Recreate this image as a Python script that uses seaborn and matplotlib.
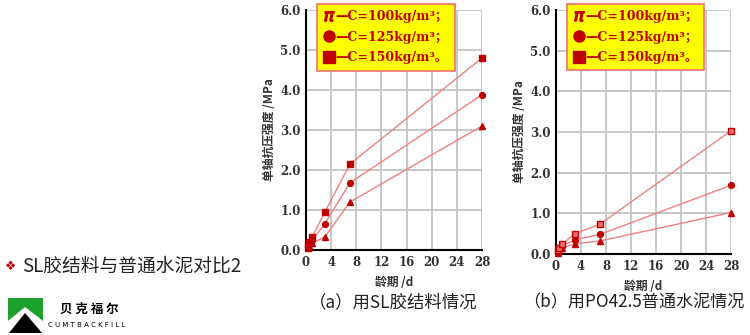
import matplotlib
matplotlib.use("Agg")
import matplotlib.pyplot as plt
import seaborn as sns
import pandas as pd
from matplotlib.lines import Line2D
from matplotlib.patches import Rectangle, Polygon

ages = [0.25, 0.5, 1, 3, 7, 28]
series_names = ["C=100kg/m³", "C=125kg/m³", "C=150kg/m³"]
sl_100 = [0.05, 0.10, 0.17, 0.33, 1.20, 3.10]
sl_125 = [0.10, 0.15, 0.25, 0.66, 1.68, 3.88]
sl_150 = [0.12, 0.20, 0.33, 0.95, 2.15, 4.80]
po_100 = [0.03, 0.10, 0.15, 0.25, 0.32, 1.02]
po_125 = [0.08, 0.13, 0.20, 0.35, 0.48, 1.69]
po_150 = [0.10, 0.15, 0.24, 0.50, 0.73, 3.03]
xticks = [0, 4, 8, 12, 16, 20, 24, 28]
yticks = [0, 1, 2, 3, 4, 5, 6]
legend_labels = ["—C=100kg/m³；", "—C=125kg/m³；", "—C=150kg/m³。"]
captions = ["（a）用SL胶结料情况", "（b）用PO42.5普通水泥情况"]

def make_df(v100, v125, v150):
    rows = []
    for name, vals in zip(series_names, [v100, v125, v150]):
        for a, v in zip(ages, vals):
            rows.append({"age": a, "strength": v, "series": name})
    return pd.DataFrame(rows)

sns.set_style("white")
plt.rcParams['font.family'] = ['Noto Sans CJK SC', 'DejaVu Sans']

DARK = "#C00000"
LINE = "#F08080"

fig = plt.figure(figsize=(7.5, 3.35), dpi=100)
axA = fig.add_axes([306/750, 1-250/335, 176/750, 240/335])
axB = fig.add_axes([556/750, 1-254/335, 175/750, 244/335])

markers = {series_names[0]: "^", series_names[1]: "o", series_names[2]: "s"}
palette = {n: LINE for n in series_names}

panels = [(axA, make_df(sl_100, sl_125, sl_150), captions[0], 393, 12.5, DARK),
          (axB, make_df(po_100, po_125, po_150), captions[1], 634, 12.3, "#E87070")]

for ax, df, cap, cx, capsize, sqface in panels:
    sns.lineplot(data=df, x="age", y="strength", hue="series", style="series",
                 markers=markers, dashes=False, palette=palette, ax=ax,
                 linewidth=1.0, markersize=4.2, legend=False, zorder=3)
    for i, ln in enumerate(ax.lines):
        ln.set_markeredgecolor(DARK)
        ln.set_markerfacecolor(sqface if i == 2 else DARK)
        ln.set_markeredgewidth(1.0)
        ln.set_clip_on(False)
    ax.set_xlim(0, 28)
    ax.set_ylim(0, 6)
    ax.set_xticks(xticks)
    ax.set_yticks(yticks)
    ax.set_xticklabels([str(t) for t in xticks], family="DejaVu Serif",
                       fontweight="bold", fontsize=8.5, color="#333333")
    ax.set_yticklabels([f"{t:.1f}" for t in yticks], family="DejaVu Serif",
                       fontweight="bold", fontsize=8.5, color="#333333")
    ax.set_xticks([x for x in range(0, 29)], minor=True)
    ax.set_yticks([y / 5 for y in range(0, 31)], minor=True)
    ax.tick_params(axis="both", which="major", direction="in", length=4,
                   width=1, color="black", pad=4)
    ax.tick_params(axis="both", which="minor", direction="in", length=2,
                   width=0.8, color="black")
    ax.grid(True, which="major", color="#C4C4C4", linewidth=1.3, zorder=0)
    ax.set_axisbelow(True)
    for s in ["top", "right"]:
        ax.spines[s].set_visible(False)
    for s in ["left", "bottom"]:
        ax.spines[s].set_color("black")
        ax.spines[s].set_linewidth(1.5)
    ax.set_xlabel("龄期 /d", fontsize=8.5, fontweight="bold", color="#333333", labelpad=5)
    ax.set_ylabel("单轴抗压强度 /MPa", fontsize=8.5, fontweight="bold", color="#333333", labelpad=3)
    handles = [
        Line2D([], [], linestyle="none", marker="$\\pi$", color=DARK, markersize=7),
        Line2D([], [], linestyle="none", marker="o", color=DARK, markersize=8),
        Line2D([], [], linestyle="none", marker="s", color=DARK, markersize=8),
    ]
    leg = ax.legend(handles, legend_labels, loc="upper left",
                    bbox_to_anchor=(11/176, 1.025), borderaxespad=0, frameon=True,
                    fancybox=False, handlelength=0.9, handletextpad=0.1,
                    labelspacing=0.6, borderpad=0.5,
                    prop={"family": ["DejaVu Serif", "Noto Sans CJK SC"],
                          "weight": "bold", "size": 9})
    leg.get_frame().set_facecolor("#FFFF00")
    leg.get_frame().set_edgecolor("#F07070")
    leg.get_frame().set_linewidth(1.2)
    leg.get_frame().set_alpha(1)
    for t in leg.get_texts():
        t.set_color(DARK)
    fig.text(cx/750, 1-302/335, cap, fontsize=capsize, ha="center", va="center", color="#222222")

fig.text(5/750, 1-266/335, "❖", fontsize=9, color=DARK, ha="left", va="center",
         family="DejaVu Sans")
fig.text(22/750, 1-266/335, "SL胶结料与普通水泥对比2", fontsize=13.5, ha="left",
         va="center", color="#222222")

# logo
fig.patches.append(Rectangle((8/750, 1-333/335), 35/750, 35/335, transform=fig.transFigure,
                             facecolor="#1FA12E", edgecolor="none"))
fig.patches.append(Polygon([(8/750, 1-333/335), (8/750, 1-321/335), (25/750, 1-307/335),
                            (43/750, 1-321/335), (43/750, 1-333/335)],
                           closed=True, transform=fig.transFigure,
                           facecolor="white", edgecolor="none"))
fig.patches.append(Polygon([(9/750, 1-333/335), (25/750, 1-313/335), (42/750, 1-333/335)],
                           closed=True, transform=fig.transFigure,
                           facecolor="black", edgecolor="none"))
fig.text(60/750, 1-309/335, "贝 克 福 尔", fontsize=9, fontweight="bold", ha="left",
         va="center", color="black")
fig.text(48/750, 1-325/335, "C U M T B A C K F I L L", fontsize=5, ha="left",
         va="center", color="black", family="DejaVu Sans")

fig.savefig("out.png", dpi=100)
